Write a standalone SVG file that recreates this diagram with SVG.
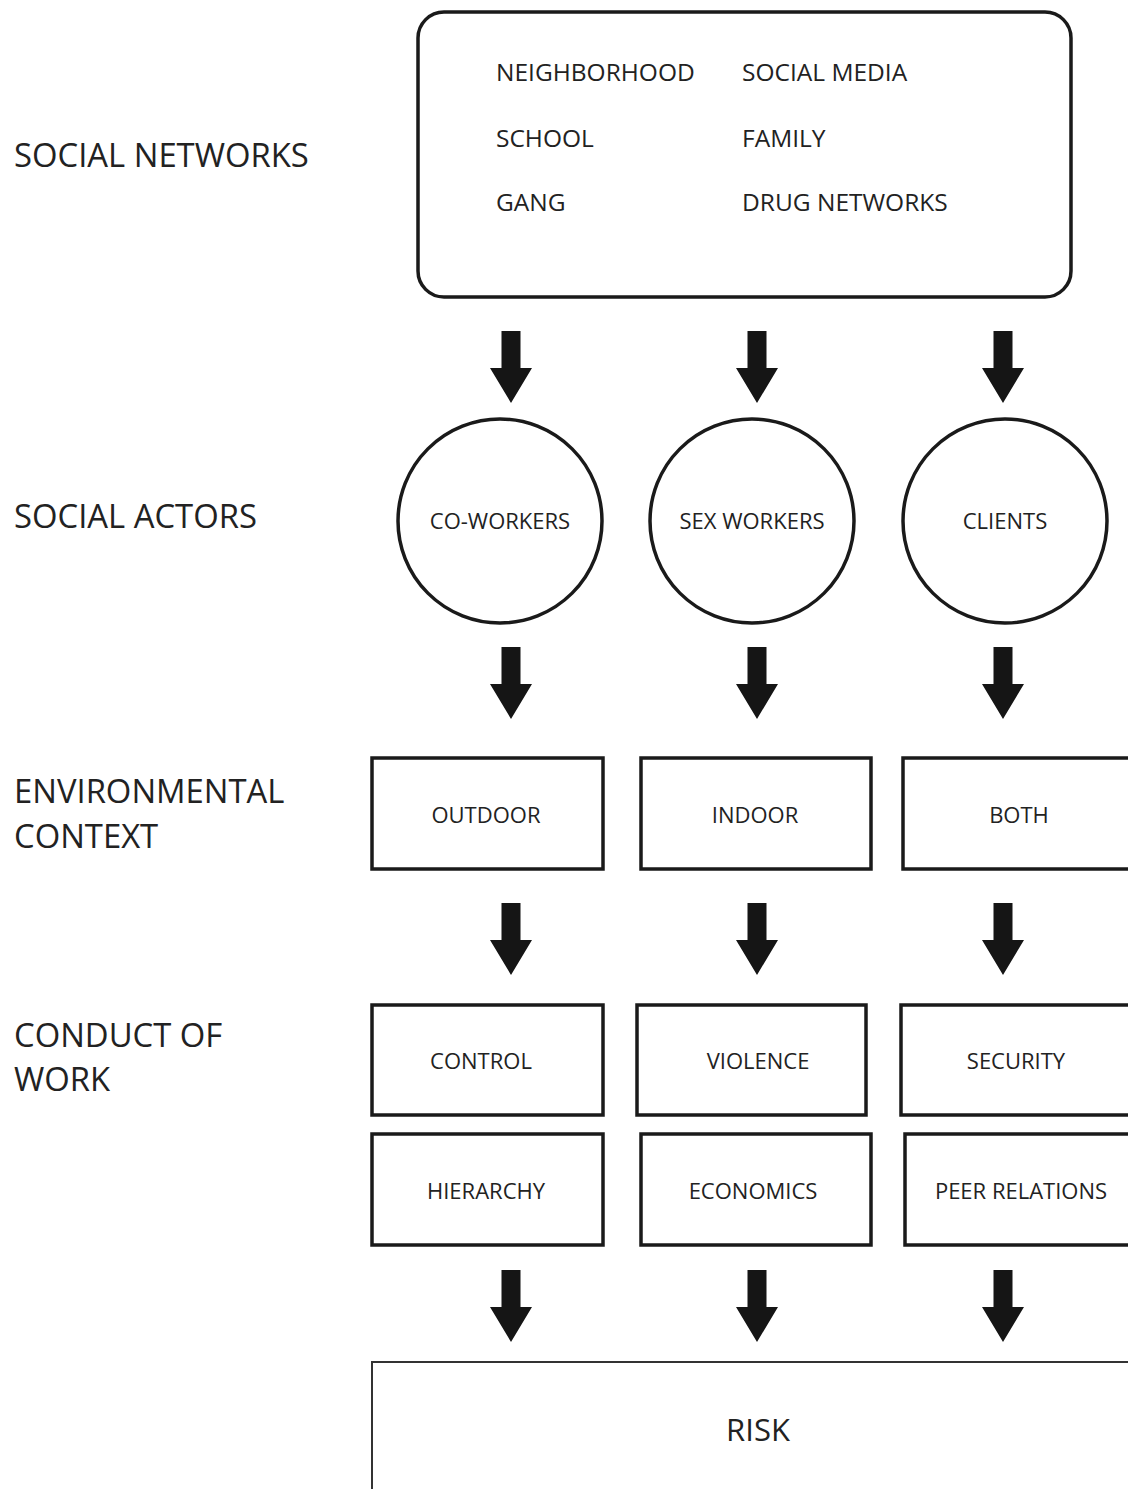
<svg xmlns="http://www.w3.org/2000/svg" width="1128" height="1489" viewBox="0 0 1128 1489">
<style>
.bg{fill:#ffffff}
.shape{fill:#ffffff;stroke:#1a1a1a;stroke-width:3.5}
.thin{fill:#ffffff;stroke:#333333;stroke-width:2}
.lbl{font-family:"Open Sans","Liberation Sans",sans-serif;fill:#222222}
.side{font-size:32.8px}
.net{font-size:24.5px}
.node{font-size:22px;text-anchor:middle}
.risk{font-size:31px;text-anchor:middle}
.arrow{fill:#151515}
</style>
<defs>
<path id="arr" d="M-9.5,0 L9.5,0 L9.5,37 L21,37 L0,72 L-21,37 L-9.5,37 Z"/>
</defs>
<rect class="bg" x="0" y="0" width="1128" height="1489"/>

<g id="side-labels">
<text class="lbl side" x="14" y="167">SOCIAL NETWORKS</text>
<text class="lbl side" x="14" y="528">SOCIAL ACTORS</text>
<text class="lbl side" x="14" y="803">ENVIRONMENTAL</text>
<text class="lbl side" x="14" y="848">CONTEXT</text>
<text class="lbl side" x="14" y="1047">CONDUCT OF</text>
<text class="lbl side" x="14" y="1091">WORK</text>
</g>

<g id="social-networks">
<rect class="shape" x="418" y="12" width="653" height="285" rx="26" ry="26"/>
<text class="lbl net" x="496" y="81">NEIGHBORHOOD</text>
<text class="lbl net" x="742" y="81">SOCIAL MEDIA</text>
<text class="lbl net" x="496" y="147">SCHOOL</text>
<text class="lbl net" x="742" y="147">FAMILY</text>
<text class="lbl net" x="496" y="211">GANG</text>
<text class="lbl net" x="742" y="211">DRUG NETWORKS</text>
</g>

<g id="co-workers">
<circle class="shape" cx="500" cy="521" r="102"/>
<text class="lbl node" x="500" y="529">CO-WORKERS</text>
</g>
<g id="sex-workers">
<circle class="shape" cx="752" cy="521" r="102"/>
<text class="lbl node" x="752" y="529">SEX WORKERS</text>
</g>
<g id="clients">
<circle class="shape" cx="1005" cy="521" r="102"/>
<text class="lbl node" x="1005" y="529">CLIENTS</text>
</g>

<g id="outdoor">
<rect class="shape" x="372" y="758" width="231" height="111"/>
<text class="lbl node" x="486" y="823">OUTDOOR</text>
</g>
<g id="indoor">
<rect class="shape" x="641" y="758" width="230" height="111"/>
<text class="lbl node" x="755" y="823">INDOOR</text>
</g>
<g id="both">
<rect class="shape" x="903" y="758" width="240" height="111"/>
<text class="lbl node" x="1019" y="823">BOTH</text>
</g>

<g id="control">
<rect class="shape" x="372" y="1005" width="231" height="110"/>
<text class="lbl node" x="481" y="1069">CONTROL</text>
</g>
<g id="violence">
<rect class="shape" x="637" y="1005" width="229" height="110"/>
<text class="lbl node" x="758" y="1069">VIOLENCE</text>
</g>
<g id="security">
<rect class="shape" x="901" y="1005" width="240" height="110"/>
<text class="lbl node" x="1016" y="1069">SECURITY</text>
</g>

<g id="hierarchy">
<rect class="shape" x="372" y="1134" width="231" height="111"/>
<text class="lbl node" x="486" y="1199">HIERARCHY</text>
</g>
<g id="economics">
<rect class="shape" x="641" y="1134" width="230" height="111"/>
<text class="lbl node" x="753" y="1199">ECONOMICS</text>
</g>
<g id="peer-relations">
<rect class="shape" x="905" y="1134" width="240" height="111"/>
<text class="lbl node" x="1021" y="1199">PEER RELATIONS</text>
</g>

<g id="risk">
<rect class="thin" x="372" y="1362" width="780" height="150"/>
<text class="lbl risk" x="758" y="1441">RISK</text>
</g>

<g id="connectors" class="arrow">
<use href="#arr" x="511" y="331"/>
<use href="#arr" x="757" y="331"/>
<use href="#arr" x="1003" y="331"/>
<use href="#arr" x="511" y="647"/>
<use href="#arr" x="757" y="647"/>
<use href="#arr" x="1003" y="647"/>
<use href="#arr" x="511" y="903"/>
<use href="#arr" x="757" y="903"/>
<use href="#arr" x="1003" y="903"/>
<use href="#arr" x="511" y="1270"/>
<use href="#arr" x="757" y="1270"/>
<use href="#arr" x="1003" y="1270"/>
</g>
</svg>
